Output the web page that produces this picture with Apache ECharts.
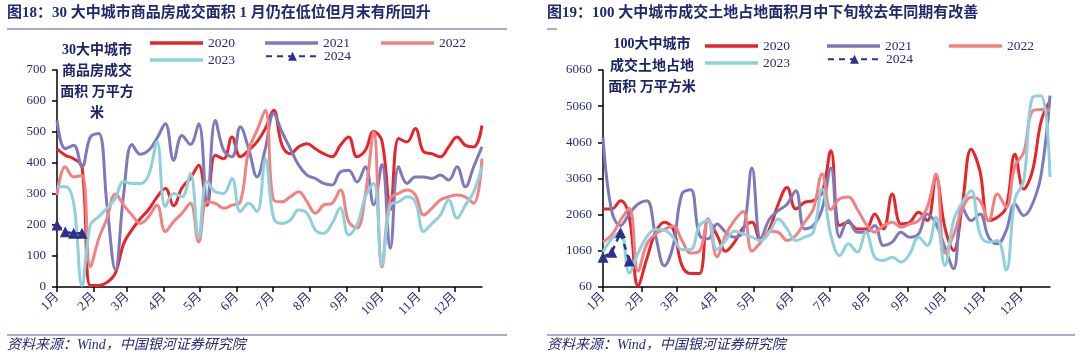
<!DOCTYPE html>
<html><head><meta charset="utf-8">
<script src="https://cdn.jsdelivr.net/npm/echarts@6/dist/echarts.min.js"></script>
<style>
body{margin:0;background:#fff;}
#wrap{display:flex;width:1080px;height:360px;}
.c{width:540px;height:360px;}
</style>
</head><body>
<div id="wrap"><div id="c1" class="c"></div><div id="c2" class="c"></div></div>
<script>
// ---- shared categories ----
const monthLabels = ['1月','2月','3月','4月','5月','6月','7月','8月','9月','10月','11月','12月'];
const monthStartDays = [0,31,59,90,120,151,181,212,243,273,304,334];
const seriesNames = ['2020','2021','2022','2023','2024'];
const weekDays = Array.from({length:52}, (_, i) => i * 7); // weekly sampling dates (day of year)

// ---- 图18: 30大中城市商品房成交面积 (万平方米) ----
const housingTicks = [0,100,200,300,400,500,600,700];
const housing2020 = [446,425,414,388,5,5,15,45,140,185,220,250,290,318,262,320,350,393,264,425,414,484,420,441,468,511,570,457,430,452,462,446,430,420,457,484,420,441,502,470,250,479,468,511,436,430,420,452,484,457,452,521];
const housing2021 = [537,446,457,387,484,495,264,56,300,460,428,441,480,527,409,489,460,527,270,537,441,420,516,446,355,446,559,500,446,393,361,350,334,329,371,377,339,388,265,395,125,388,334,355,355,350,361,345,388,323,388,452];
const housing2022 = [297,388,355,360,65,155,222,300,264,232,205,227,264,179,211,238,270,145,275,270,254,264,275,441,505,570,280,275,291,307,275,238,264,270,313,211,190,297,500,65,286,302,313,297,232,254,281,291,297,291,270,414];
const housing2023 = [323,323,270,5,200,227,254,286,340,334,334,361,468,259,302,291,366,160,340,307,302,350,243,270,243,414,222,205,216,248,238,184,173,205,255,168,200,291,334,72,264,275,291,275,179,205,232,281,222,264,307,388];
const housing2024 = [200,178,173,173];

// ---- 图19: 100大中城市成交土地占地面积 (万平方米) ----
const landTicks = [60,1060,2060,3060,4060,5060,6060];
const land2020 = [2217,2217,2447,1988,100,840,1575,1850,1667,657,430,430,1900,1500,1050,1300,1700,1850,1345,1667,2355,2814,2217,2400,2447,2676,3824,1758,1850,1667,1667,2080,1667,2630,1804,1850,2125,1896,3089,1712,1070,2355,3870,3273,1896,1988,2263,3732,2768,3273,4650,5200];
const land2021 = [4191,2150,1760,2080,2355,2447,1483,650,1200,2630,2750,1500,1391,1804,1575,1437,1600,3350,1391,1942,2171,2350,2720,1667,1758,2217,3350,1437,1896,1575,1575,1758,1207,1300,1575,1437,1529,2080,1804,1162,565,2263,1896,2080,1437,1253,1621,2355,2034,2355,3181,5350];
const land2022 = [1300,1500,1900,2240,500,1250,1530,1650,1750,1350,1000,1050,1950,900,1500,1900,2150,1050,1300,1600,1575,1345,1483,1850,2217,3181,2200,2500,2550,2217,1804,1575,1758,1850,1712,1804,1896,2263,3181,1000,1500,2217,2539,2447,1896,2630,2263,3411,3778,4925,4970,4950];
const land2023 = [1024,1391,1575,450,1000,1450,1650,1630,1437,1100,1100,1750,1900,1100,1350,1600,1529,1437,1345,1575,1942,1667,1345,1437,1575,2768,1483,932,1253,1024,1575,886,794,886,748,978,1437,1208,1988,657,1896,2400,2722,1529,1300,1345,530,2500,3000,5300,5350,3100];
const land2024 = [880,1020,1570,780];

// ---- styles ----
const NAVY = '#262a74';
const COLORS = ['#e8242a', '#7e7aba', '#f28282', '#8ed0dc', '#2f2f8c'];
const SERIF = "'Liberation Serif','Noto Sans CJK SC',serif";

function buildOption(cfg) {
  const vals = cfg.values;
  const series = vals.map((arr, si) => {
    const is24 = si === 4;
    return {
      name: seriesNames[si],
      type: 'line',
      smooth: is24 ? false : 0.4,
      symbol: is24 ? 'triangle' : 'none',
      symbolSize: 11,
      showSymbol: is24,
      itemStyle: {color: COLORS[si]},
      lineStyle: {color: COLORS[si], width: is24 ? 2.5 : 3, type: is24 ? [6, 5] : 'solid'},
      data: arr.map((v, i) => [weekDays[i], v]),
      z: 2 + si
    };
  });
  const legends = seriesNames.map((n, i) => {
    const is24 = i === 4;
    const rowY = i < 3 ? cfg.legendY[0] : cfg.legendY[1];
    const h = is24 ? 11 : 3.5;
    const lg = {
      data: [n],
      left: cfg.legendX[i % 3],
      top: rowY - h / 2,
      padding: 0,
      itemWidth: 53,
      itemHeight: h,
      itemGap: 0,
      textStyle: {color: NAVY, fontFamily: SERIF, fontSize: 13.5, padding: [0, 0, 0, 0]},
      selectedMode: false
    };
    if (!is24) lg.icon = 'rect';
    return lg;
  });
  return {
    animation: false,
    backgroundColor: '#fff',
    grid: {left: cfg.grid.left, right: cfg.grid.right, top: 70, bottom: 73},
    legend: legends,
    xAxis: {
      type: 'value', min: 0, max: 357,
      axisLine: {show: true, onZero: false, lineStyle: {color: '#000', width: 1.5}},
      axisTick: {show: true, customValues: monthStartDays, length: 5, lineStyle: {color: '#000', width: 1.5}},
      axisLabel: {
        customValues: monthStartDays,
        formatter: v => monthLabels[monthStartDays.indexOf(v)],
        rotate: 45, margin: 8, color: NAVY, fontFamily: SERIF, fontSize: 13
      },
      splitLine: {show: false}
    },
    yAxis: {
      type: 'value', min: cfg.ticks[0], max: cfg.ticks[cfg.ticks.length - 1],
      interval: cfg.ticks[1] - cfg.ticks[0],
      axisLine: {show: true, lineStyle: {color: '#000', width: 1.5}},
      axisTick: {show: true, length: 5, lineStyle: {color: '#000', width: 1.5}},
      axisLabel: {margin: 11, color: NAVY, fontFamily: SERIF, fontSize: 13, formatter: v => String(v)},
      splitLine: {show: false}
    },
    graphic: [
      {type: 'text', left: 7, top: 6, style: {text: cfg.title, font: "bold 15px 'Liberation Serif','Noto Sans CJK SC'", fill: '#1f2a6e'}},
      {type: 'line', shape: {x1: 7, y1: 29, x2: cfg.topLineEnd, y2: 29}, style: {stroke: '#8e8fb6', lineWidth: 1.5}},
      {type: 'line', shape: {x1: 7, y1: 335, x2: cfg.bottomLineEnd, y2: 335}, style: {stroke: '#8e8fb6', lineWidth: 1.5}},
      {type: 'text', left: 7, top: 338, style: {text: '资料来源：Wind，中国银河证券研究院', font: "italic 14px 'Liberation Serif','Noto Sans CJK SC'", fill: NAVY}},
      {type: 'text', z: 10, style: {text: cfg.yName, x: cfg.yNameX, y: cfg.yNameY, textAlign: 'center', textVerticalAlign: 'top', lineHeight: cfg.yNameLH, font: "bold 14px 'Liberation Serif','Noto Sans CJK SC'", fill: '#1b2268'}}
    ],
    series
  };
}

const chart1 = echarts.init(document.getElementById('c1'));
chart1.setOption(buildOption({
  title: '图18：30 大中城市商品房成交面积 1 月仍在低位但月末有所回升',
  values: [housing2020, housing2021, housing2022, housing2023, housing2024],
  ticks: housingTicks,
  grid: {left: 57, right: 58},
  legendX: [150, 265, 381],
  legendY: [38, 55],
  topLineEnd: 507, bottomLineEnd: 507,
  yName: '30大中城市\n商品房成交\n面积 万平方\n米', yNameX: 97, yNameY: 40, yNameLH: 21
}));

const chart2 = echarts.init(document.getElementById('c2'));
chart2.setOption(buildOption({
  title: '图19：100 大中城市成交土地占地面积月中下旬较去年同期有改善',
  values: [land2020, land2021, land2022, land2023, land2024],
  ticks: landTicks,
  grid: {left: 63, right: 30},
  legendX: [165, 287, 409],
  legendY: [41, 58],
  topLineEnd: 17, bottomLineEnd: 535,
  yName: '100大中城市\n成交土地占地\n面积 万平方米', yNameX: 112, yNameY: 34, yNameLH: 21.5
}));
</script>
</body></html>
